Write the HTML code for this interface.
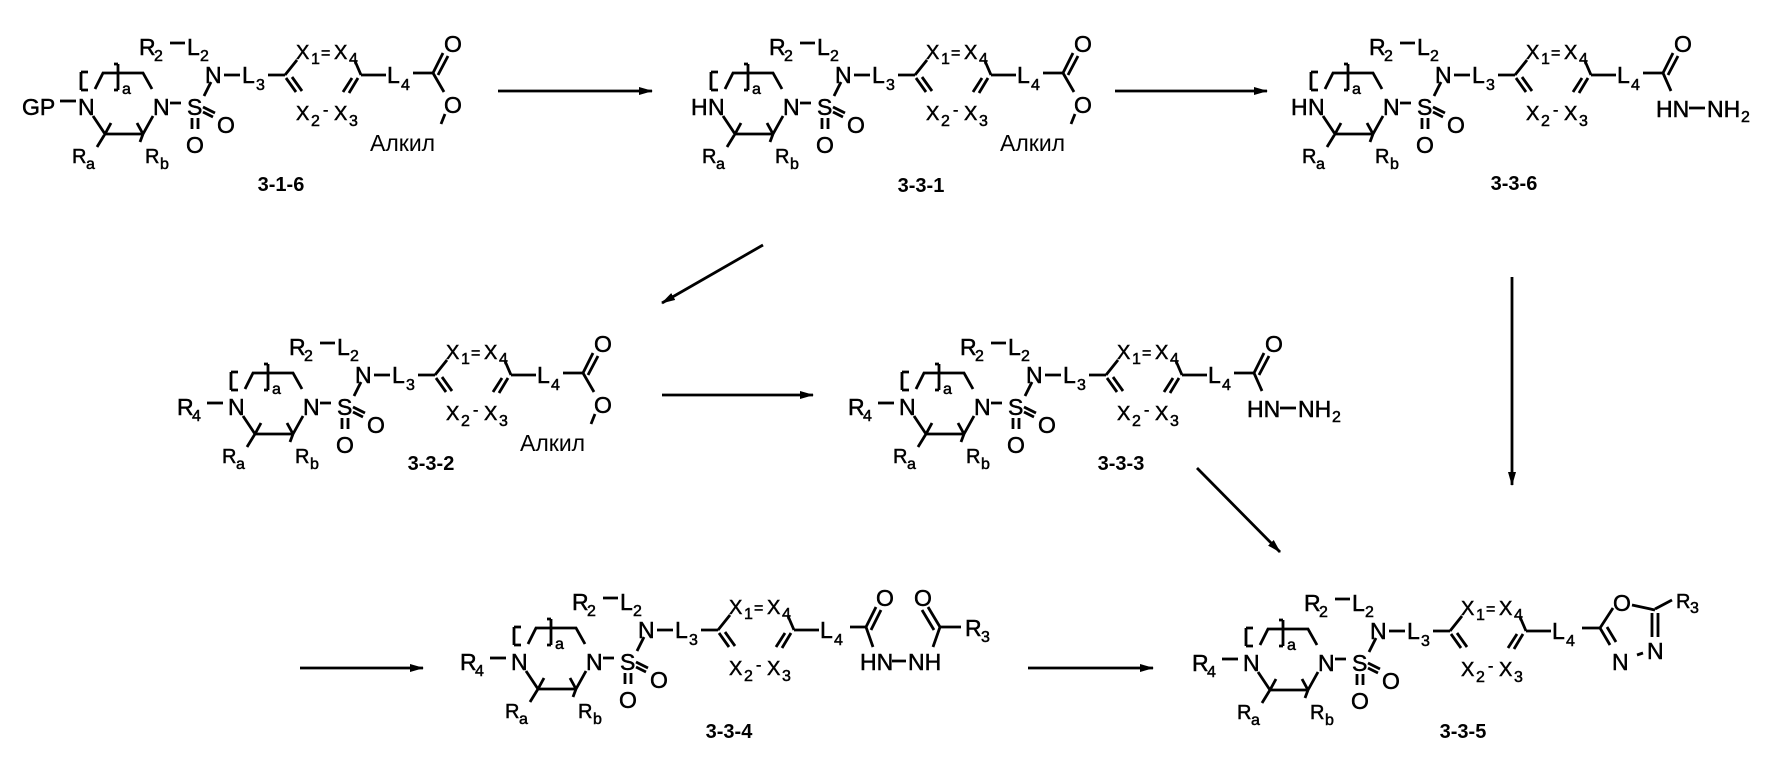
<!DOCTYPE html>
<html><head><meta charset="utf-8"><style>
html,body{margin:0;padding:0;background:#fff}
svg{display:block}
text{font-family:"Liberation Sans",Arial,sans-serif;fill:#000}
.t,.x,.s{stroke:#000;stroke-width:0.5px}
.t{font-size:23px}
.x{font-size:20px}
.s{font-size:16px}
.al{font-size:23px}
.lab{font-size:20px;font-weight:bold;text-anchor:middle}
.b{stroke:#000;stroke-width:2.8;fill:none}
</style></head><body>
<svg width="1769" height="764" viewBox="0 0 1769 764" xmlns="http://www.w3.org/2000/svg">
<defs>
<marker id="ah" markerUnits="userSpaceOnUse" markerWidth="14" markerHeight="10" refX="13" refY="4" orient="auto"><path d="M0,0 L14,4 L0,8 z" fill="#000"/></marker>
</defs>

<g stroke="#000" stroke-width="2.8" fill="none" marker-end="url(#ah)">
<line x1="498" y1="91" x2="652" y2="91"/>
<line x1="1115" y1="91" x2="1267" y2="91"/>
<line x1="763" y1="245" x2="662" y2="303"/>
<line x1="662" y1="395" x2="813" y2="395"/>
<line x1="1512" y1="277" x2="1512" y2="485"/>
<line x1="1197" y1="468" x2="1280" y2="552"/>
<line x1="300" y1="668" x2="423" y2="668"/>
<line x1="1028" y1="668" x2="1153" y2="668"/>
</g>

<g transform="translate(0,0)">
<path class="b" d="M81,72V90M81,72H88M81,90H88M95,89L103,73H143L152,89M118,64V90M114,64H118M114,90H118M93,116L105,134H143L153,116M105,134L111,123M105,134L97,147M143,134L137,123M143,134L140,142M170,103H181M192,118V129M198,118V129M203,107L215,113M203,112L213,117M204,96L211,82M224,75H240M268,75H285M285,75L297,60M286,78L296,92M292,77L302,91M355,61L361,75M349,93L358,78M343,92L352,78M361,75H386M170,43H185M413,73H433"/>
<text class="t" x="78" y="115">N</text><text class="s" x="122" y="94">a</text>
<text class="t" x="153" y="115">N</text><text class="t" x="187" y="115">S</text>
<text class="t" x="186" y="153">O</text><text class="t" x="217" y="133">O</text>
<text class="t" x="205" y="83">N</text><text class="t" x="242" y="83">L</text><text class="s" x="256" y="90">3</text>
<text class="t" x="139" y="55">R</text><text class="s" x="154" y="61">2</text><text class="t" x="187" y="55">L</text><text class="s" x="200" y="61">2</text>
<text class="x" x="296" y="59">X</text><text class="s" x="311" y="64">1</text><text class="s" x="321" y="58">=</text><text class="x" x="334" y="59">X</text><text class="s" x="349" y="64">4</text>
<text class="x" x="296" y="120">X</text><text class="s" x="311" y="126">2</text><text class="s" x="323" y="115">-</text><text class="x" x="334" y="120">X</text><text class="s" x="349" y="126">3</text>
<text class="t" x="387" y="83">L</text><text class="s" x="401" y="90">4</text>
<text class="x" x="72" y="163">R</text><text class="s" x="86" y="169">a</text><text class="x" x="145" y="163">R</text><text class="s" x="160" y="169">b</text>
<text class="t" x="22" y="115">GP</text><path class="b" d="M60,101H76"/>
<path class="b" d="M433,73L443,53M438,75L448,56M433,73L444,92M445,114L441,124"/>
<text class="t" x="444" y="52">O</text><text class="t" x="444" y="113">O</text><text class="al" x="370" y="151">Алкил</text>
</g>
<text class="lab" x="281" y="191">3-1-6</text>

<g transform="translate(630,0)">
<path class="b" d="M81,72V90M81,72H88M81,90H88M95,89L103,73H143L152,89M118,64V90M114,64H118M114,90H118M93,116L105,134H143L153,116M105,134L111,123M105,134L97,147M143,134L137,123M143,134L140,142M170,103H181M192,118V129M198,118V129M203,107L215,113M203,112L213,117M204,96L211,82M224,75H240M268,75H285M285,75L297,60M286,78L296,92M292,77L302,91M355,61L361,75M349,93L358,78M343,92L352,78M361,75H386M170,43H185M413,73H433"/>
<text class="t" x="78" y="115">N</text><text class="s" x="122" y="94">a</text>
<text class="t" x="153" y="115">N</text><text class="t" x="187" y="115">S</text>
<text class="t" x="186" y="153">O</text><text class="t" x="217" y="133">O</text>
<text class="t" x="205" y="83">N</text><text class="t" x="242" y="83">L</text><text class="s" x="256" y="90">3</text>
<text class="t" x="139" y="55">R</text><text class="s" x="154" y="61">2</text><text class="t" x="187" y="55">L</text><text class="s" x="200" y="61">2</text>
<text class="x" x="296" y="59">X</text><text class="s" x="311" y="64">1</text><text class="s" x="321" y="58">=</text><text class="x" x="334" y="59">X</text><text class="s" x="349" y="64">4</text>
<text class="x" x="296" y="120">X</text><text class="s" x="311" y="126">2</text><text class="s" x="323" y="115">-</text><text class="x" x="334" y="120">X</text><text class="s" x="349" y="126">3</text>
<text class="t" x="387" y="83">L</text><text class="s" x="401" y="90">4</text>
<text class="x" x="72" y="163">R</text><text class="s" x="86" y="169">a</text><text class="x" x="145" y="163">R</text><text class="s" x="160" y="169">b</text>
<text class="t" x="61" y="115">H</text>
<path class="b" d="M433,73L443,53M438,75L448,56M433,73L444,92M445,114L441,124"/>
<text class="t" x="444" y="52">O</text><text class="t" x="444" y="113">O</text><text class="al" x="370" y="151">Алкил</text>
</g>
<text class="lab" x="921" y="192">3-3-1</text>

<g transform="translate(1230,0)">
<path class="b" d="M81,72V90M81,72H88M81,90H88M95,89L103,73H143L152,89M118,64V90M114,64H118M114,90H118M93,116L105,134H143L153,116M105,134L111,123M105,134L97,147M143,134L137,123M143,134L140,142M170,103H181M192,118V129M198,118V129M203,107L215,113M203,112L213,117M204,96L211,82M224,75H240M268,75H285M285,75L297,60M286,78L296,92M292,77L302,91M355,61L361,75M349,93L358,78M343,92L352,78M361,75H386M170,43H185M413,73H433"/>
<text class="t" x="78" y="115">N</text><text class="s" x="122" y="94">a</text>
<text class="t" x="153" y="115">N</text><text class="t" x="187" y="115">S</text>
<text class="t" x="186" y="153">O</text><text class="t" x="217" y="133">O</text>
<text class="t" x="205" y="83">N</text><text class="t" x="242" y="83">L</text><text class="s" x="256" y="90">3</text>
<text class="t" x="139" y="55">R</text><text class="s" x="154" y="61">2</text><text class="t" x="187" y="55">L</text><text class="s" x="200" y="61">2</text>
<text class="x" x="296" y="59">X</text><text class="s" x="311" y="64">1</text><text class="s" x="321" y="58">=</text><text class="x" x="334" y="59">X</text><text class="s" x="349" y="64">4</text>
<text class="x" x="296" y="120">X</text><text class="s" x="311" y="126">2</text><text class="s" x="323" y="115">-</text><text class="x" x="334" y="120">X</text><text class="s" x="349" y="126">3</text>
<text class="t" x="387" y="83">L</text><text class="s" x="401" y="90">4</text>
<text class="x" x="72" y="163">R</text><text class="s" x="86" y="169">a</text><text class="x" x="145" y="163">R</text><text class="s" x="160" y="169">b</text>
<text class="t" x="61" y="115">H</text>
<path class="b" d="M433,73L443,53M438,75L448,56M433,73L441,91M459,108H475"/>
<text class="t" x="444" y="52">O</text><text class="t" x="426" y="117">HN</text><text class="t" x="477" y="117">NH</text><text class="s" x="511" y="122">2</text>
</g>
<text class="lab" x="1514" y="190">3-3-6</text>

<g transform="translate(150,300)">
<path class="b" d="M81,72V90M81,72H88M81,90H88M95,89L103,73H143L152,89M118,64V90M114,64H118M114,90H118M93,116L105,134H143L153,116M105,134L111,123M105,134L97,147M143,134L137,123M143,134L140,142M170,103H181M192,118V129M198,118V129M203,107L215,113M203,112L213,117M204,96L211,82M224,75H240M268,75H285M285,75L297,60M286,78L296,92M292,77L302,91M355,61L361,75M349,93L358,78M343,92L352,78M361,75H386M170,43H185M413,73H433"/>
<text class="t" x="78" y="115">N</text><text class="s" x="122" y="94">a</text>
<text class="t" x="153" y="115">N</text><text class="t" x="187" y="115">S</text>
<text class="t" x="186" y="153">O</text><text class="t" x="217" y="133">O</text>
<text class="t" x="205" y="83">N</text><text class="t" x="242" y="83">L</text><text class="s" x="256" y="90">3</text>
<text class="t" x="139" y="55">R</text><text class="s" x="154" y="61">2</text><text class="t" x="187" y="55">L</text><text class="s" x="200" y="61">2</text>
<text class="x" x="296" y="59">X</text><text class="s" x="311" y="64">1</text><text class="s" x="321" y="58">=</text><text class="x" x="334" y="59">X</text><text class="s" x="349" y="64">4</text>
<text class="x" x="296" y="120">X</text><text class="s" x="311" y="126">2</text><text class="s" x="323" y="115">-</text><text class="x" x="334" y="120">X</text><text class="s" x="349" y="126">3</text>
<text class="t" x="387" y="83">L</text><text class="s" x="401" y="90">4</text>
<text class="x" x="72" y="163">R</text><text class="s" x="86" y="169">a</text><text class="x" x="145" y="163">R</text><text class="s" x="160" y="169">b</text>
<text class="t" x="27" y="115">R</text><text class="s" x="42" y="121">4</text><path class="b" d="M57,103H73"/>
<path class="b" d="M433,73L443,53M438,75L448,56M433,73L444,92M445,114L441,124"/>
<text class="t" x="444" y="52">O</text><text class="t" x="444" y="113">O</text><text class="al" x="370" y="151">Алкил</text>
</g>
<text class="lab" x="431" y="470">3-3-2</text>

<g transform="translate(821,300)">
<path class="b" d="M81,72V90M81,72H88M81,90H88M95,89L103,73H143L152,89M118,64V90M114,64H118M114,90H118M93,116L105,134H143L153,116M105,134L111,123M105,134L97,147M143,134L137,123M143,134L140,142M170,103H181M192,118V129M198,118V129M203,107L215,113M203,112L213,117M204,96L211,82M224,75H240M268,75H285M285,75L297,60M286,78L296,92M292,77L302,91M355,61L361,75M349,93L358,78M343,92L352,78M361,75H386M170,43H185M413,73H433"/>
<text class="t" x="78" y="115">N</text><text class="s" x="122" y="94">a</text>
<text class="t" x="153" y="115">N</text><text class="t" x="187" y="115">S</text>
<text class="t" x="186" y="153">O</text><text class="t" x="217" y="133">O</text>
<text class="t" x="205" y="83">N</text><text class="t" x="242" y="83">L</text><text class="s" x="256" y="90">3</text>
<text class="t" x="139" y="55">R</text><text class="s" x="154" y="61">2</text><text class="t" x="187" y="55">L</text><text class="s" x="200" y="61">2</text>
<text class="x" x="296" y="59">X</text><text class="s" x="311" y="64">1</text><text class="s" x="321" y="58">=</text><text class="x" x="334" y="59">X</text><text class="s" x="349" y="64">4</text>
<text class="x" x="296" y="120">X</text><text class="s" x="311" y="126">2</text><text class="s" x="323" y="115">-</text><text class="x" x="334" y="120">X</text><text class="s" x="349" y="126">3</text>
<text class="t" x="387" y="83">L</text><text class="s" x="401" y="90">4</text>
<text class="x" x="72" y="163">R</text><text class="s" x="86" y="169">a</text><text class="x" x="145" y="163">R</text><text class="s" x="160" y="169">b</text>
<text class="t" x="27" y="115">R</text><text class="s" x="42" y="121">4</text><path class="b" d="M57,103H73"/>
<path class="b" d="M433,73L443,53M438,75L448,56M433,73L441,91M459,108H475"/>
<text class="t" x="444" y="52">O</text><text class="t" x="426" y="117">HN</text><text class="t" x="477" y="117">NH</text><text class="s" x="511" y="122">2</text>
</g>
<text class="lab" x="1121" y="470">3-3-3</text>

<g transform="translate(433,555)">
<path class="b" d="M81,72V90M81,72H88M81,90H88M95,89L103,73H143L152,89M118,64V90M114,64H118M114,90H118M93,116L105,134H143L153,116M105,134L111,123M105,134L97,147M143,134L137,123M143,134L140,142M170,103H181M192,118V129M198,118V129M203,107L215,113M203,112L213,117M204,96L211,82M224,75H240M268,75H285M285,75L297,60M286,78L296,92M292,77L302,91M355,61L361,75M349,93L358,78M343,92L352,78M361,75H386M170,43H185M417,72H433"/>
<text class="t" x="78" y="115">N</text><text class="s" x="122" y="94">a</text>
<text class="t" x="153" y="115">N</text><text class="t" x="187" y="115">S</text>
<text class="t" x="186" y="153">O</text><text class="t" x="217" y="133">O</text>
<text class="t" x="205" y="83">N</text><text class="t" x="242" y="83">L</text><text class="s" x="256" y="90">3</text>
<text class="t" x="139" y="55">R</text><text class="s" x="154" y="61">2</text><text class="t" x="187" y="55">L</text><text class="s" x="200" y="61">2</text>
<text class="x" x="296" y="59">X</text><text class="s" x="311" y="64">1</text><text class="s" x="321" y="58">=</text><text class="x" x="334" y="59">X</text><text class="s" x="349" y="64">4</text>
<text class="x" x="296" y="120">X</text><text class="s" x="311" y="126">2</text><text class="s" x="323" y="115">-</text><text class="x" x="334" y="120">X</text><text class="s" x="349" y="126">3</text>
<text class="t" x="387" y="83">L</text><text class="s" x="401" y="90">4</text>
<text class="x" x="72" y="163">R</text><text class="s" x="86" y="169">a</text><text class="x" x="145" y="163">R</text><text class="s" x="160" y="169">b</text>
<text class="t" x="27" y="115">R</text><text class="s" x="42" y="121">4</text><path class="b" d="M57,103H73"/>
<path class="b" d="M433,72L443,52M438,75L448,55M433,72L440,92M459,106H473M507,72L495,52M501,75L489,55M507,72L500,92M507,72H528"/>
<text class="t" x="443" y="51">O</text><text class="t" x="481" y="51">O</text>
<text class="t" x="427" y="115">HN</text><text class="t" x="475" y="115">NH</text>
<text class="t" x="532" y="81">R</text><text class="s" x="548" y="87">3</text>
</g>
<text class="lab" x="729" y="738">3-3-4</text>

<g transform="translate(1165,556)">
<path class="b" d="M81,72V90M81,72H88M81,90H88M95,89L103,73H143L152,89M118,64V90M114,64H118M114,90H118M93,116L105,134H143L153,116M105,134L111,123M105,134L97,147M143,134L137,123M143,134L140,142M170,103H181M192,118V129M198,118V129M203,107L215,113M203,112L213,117M204,96L211,82M224,75H240M268,75H285M285,75L297,60M286,78L296,92M292,77L302,91M355,61L361,75M349,93L358,78M343,92L352,78M361,75H386M170,43H185"/>
<text class="t" x="78" y="115">N</text><text class="s" x="122" y="94">a</text>
<text class="t" x="153" y="115">N</text><text class="t" x="187" y="115">S</text>
<text class="t" x="186" y="153">O</text><text class="t" x="217" y="133">O</text>
<text class="t" x="205" y="83">N</text><text class="t" x="242" y="83">L</text><text class="s" x="256" y="90">3</text>
<text class="t" x="139" y="55">R</text><text class="s" x="154" y="61">2</text><text class="t" x="187" y="55">L</text><text class="s" x="200" y="61">2</text>
<text class="x" x="296" y="59">X</text><text class="s" x="311" y="64">1</text><text class="s" x="321" y="58">=</text><text class="x" x="334" y="59">X</text><text class="s" x="349" y="64">4</text>
<text class="x" x="296" y="120">X</text><text class="s" x="311" y="126">2</text><text class="s" x="323" y="115">-</text><text class="x" x="334" y="120">X</text><text class="s" x="349" y="126">3</text>
<text class="t" x="387" y="83">L</text><text class="s" x="401" y="90">4</text>
<text class="x" x="72" y="163">R</text><text class="s" x="86" y="169">a</text><text class="x" x="145" y="163">R</text><text class="s" x="160" y="169">b</text>
<text class="t" x="27" y="115">R</text><text class="s" x="42" y="121">4</text><path class="b" d="M57,103H73"/>
<path class="b" d="M417,72H435M435,72L448,52M467,49L490,54M490,53L507,44M487,57V81M493,57V81M472,99L478,97M435,72L445,89M442,71L451,86"/>
<text class="t" x="448" y="55">O</text>
<text class="x" x="511" y="52">R</text><text class="s" x="525" y="57">3</text>
<text class="t" x="482" y="103">N</text><text class="t" x="447" y="114">N</text>
</g>
<text class="lab" x="1463" y="738">3-3-5</text>
</svg>
</body></html>
